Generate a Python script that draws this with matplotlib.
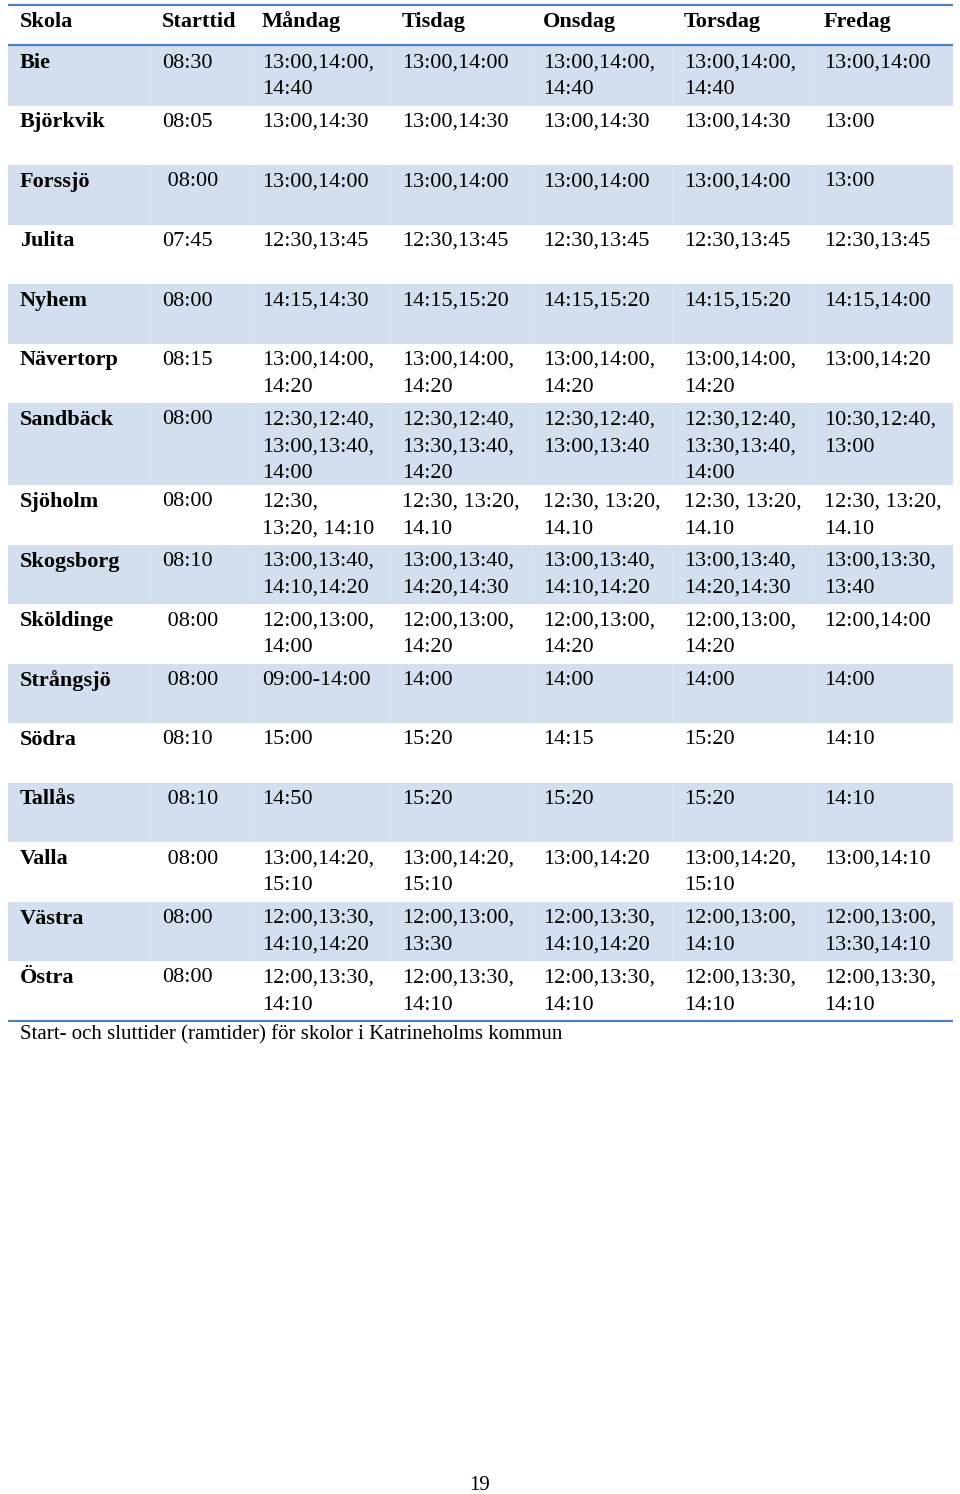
import matplotlib
matplotlib.use("Agg")
import matplotlib.pyplot as plt
from matplotlib.patches import Rectangle

plt.rcParams['font.family'] = ['Liberation Serif', 'DejaVu Serif']

########## DOC TABLE DATA ##########
headers = ["Skola", "Starttid", "Måndag", "Tisdag", "Onsdag", "Torsdag", "Fredag"]

schools = ["Bie", "Björkvik", "Forssjö", "Julita", "Nyhem", "Nävertorp", "Sandbäck",
           "Sjöholm", "Skogsborg", "Sköldinge", "Strångsjö", "Södra", "Tallås",
           "Valla", "Västra", "Östra"]

starttid = ["08:30", "08:05", " 08:00", "07:45", "08:00", "08:15", "08:00",
            "08:00", "08:10", " 08:00", " 08:00", "08:10", " 08:10",
            " 08:00", "08:00", "08:00"]

mandag = ["13:00,14:00,\n14:40", "13:00,14:30", "13:00,14:00", "12:30,13:45", "14:15,14:30",
          "13:00,14:00,\n14:20", "12:30,12:40,\n13:00,13:40,\n14:00", "12:30,\n13:20, 14:10",
          "13:00,13:40,\n14:10,14:20", "12:00,13:00,\n14:00", "09:00-14:00", "15:00", "14:50",
          "13:00,14:20,\n15:10", "12:00,13:30,\n14:10,14:20", "12:00,13:30,\n14:10"]

tisdag = ["13:00,14:00", "13:00,14:30", "13:00,14:00", "12:30,13:45", "14:15,15:20",
          "13:00,14:00,\n14:20", "12:30,12:40,\n13:30,13:40,\n14:20", "12:30, 13:20,\n14.10",
          "13:00,13:40,\n14:20,14:30", "12:00,13:00,\n14:20", "14:00", "15:20", "15:20",
          "13:00,14:20,\n15:10", "12:00,13:00,\n13:30", "12:00,13:30,\n14:10"]

onsdag = ["13:00,14:00,\n14:40", "13:00,14:30", "13:00,14:00", "12:30,13:45", "14:15,15:20",
          "13:00,14:00,\n14:20", "12:30,12:40,\n13:00,13:40", "12:30, 13:20,\n14.10",
          "13:00,13:40,\n14:10,14:20", "12:00,13:00,\n14:20", "14:00", "14:15", "15:20",
          "13:00,14:20", "12:00,13:30,\n14:10,14:20", "12:00,13:30,\n14:10"]

torsdag = ["13:00,14:00,\n14:40", "13:00,14:30", "13:00,14:00", "12:30,13:45", "14:15,15:20",
           "13:00,14:00,\n14:20", "12:30,12:40,\n13:30,13:40,\n14:00", "12:30, 13:20,\n14.10",
           "13:00,13:40,\n14:20,14:30", "12:00,13:00,\n14:20", "14:00", "15:20", "15:20",
           "13:00,14:20,\n15:10", "12:00,13:00,\n14:10", "12:00,13:30,\n14:10"]

fredag = ["13:00,14:00", "13:00", "13:00", "12:30,13:45", "14:15,14:00",
          "13:00,14:20", "10:30,12:40,\n13:00", "12:30, 13:20,\n14.10",
          "13:00,13:30,\n13:40", "12:00,14:00", "14:00", "14:10", "14:10",
          "13:00,14:10", "12:00,13:00,\n13:30,14:10", "12:00,13:30,\n14:10"]

caption = "Start- och sluttider (ramtider) för skolor i Katrineholms kommun"
page_no = "19"
########################################

columns = [schools, starttid, mandag, tisdag, onsdag, torsdag, fredag]

##### DOC layout (pixel units, y downwards)
W, H = 960, 1494
col_x = [20, 162, 262, 402, 543, 684, 824]
left, right = 8, 953
top_line, head_line = 5, 45
line_h = 27
top_pad, bot_pad = 17, 11
min_row_h = 59.5
band_color = "#d3dfee"
rule_color = "#4f81bd"
fs = 16

fig = plt.figure(figsize=(W / 100, H / 100), dpi=100)
ax = fig.add_axes([0, 0, 1, 1])
ax.set_xlim(0, W)
ax.set_ylim(H, 0)
ax.axis("off")

# header
for x, h in zip(col_x, headers):
    ax.text(x, 22, h, fontsize=fs, fontweight="bold", va="center", ha="left")
ax.plot([left, right], [top_line, top_line], color=rule_color, lw=1.6, solid_capstyle="butt")
ax.plot([left, right], [head_line, head_line], color=rule_color, lw=1.6, solid_capstyle="butt")

# body rows
y = head_line + 1
for i in range(len(schools)):
    cells = [c[i] for c in columns]
    n = max(len(c.split("\n")) for c in cells)
    row_h = max(min_row_h, top_pad + line_h * (n - 1) + bot_pad)
    if i % 2 == 0:
        ax.add_patch(Rectangle((left, y), right - left, row_h, color=band_color, lw=0, zorder=0))
        for bx in [150, 250, 390, 531, 672, 812]:
            ax.plot([bx, bx], [y, y + row_h], color="white", lw=0.6, alpha=0.12, zorder=0.5)
    for j, (x, c) in enumerate(zip(col_x, cells)):
        for k, line in enumerate(c.split("\n")):
            ax.text(x, y + top_pad + k * line_h, line, fontsize=fs, va="center", ha="left",
                    fontweight="bold" if j == 0 else "normal")
    y += row_h

ax.plot([left, right], [y, y], color=rule_color, lw=1.6, solid_capstyle="butt")
ax.text(20, y + 14, caption, fontsize=15, va="center", ha="left")
ax.text(480, 1485, page_no, fontsize=15, va="center", ha="center")

plt.savefig("out.png", dpi=100)
